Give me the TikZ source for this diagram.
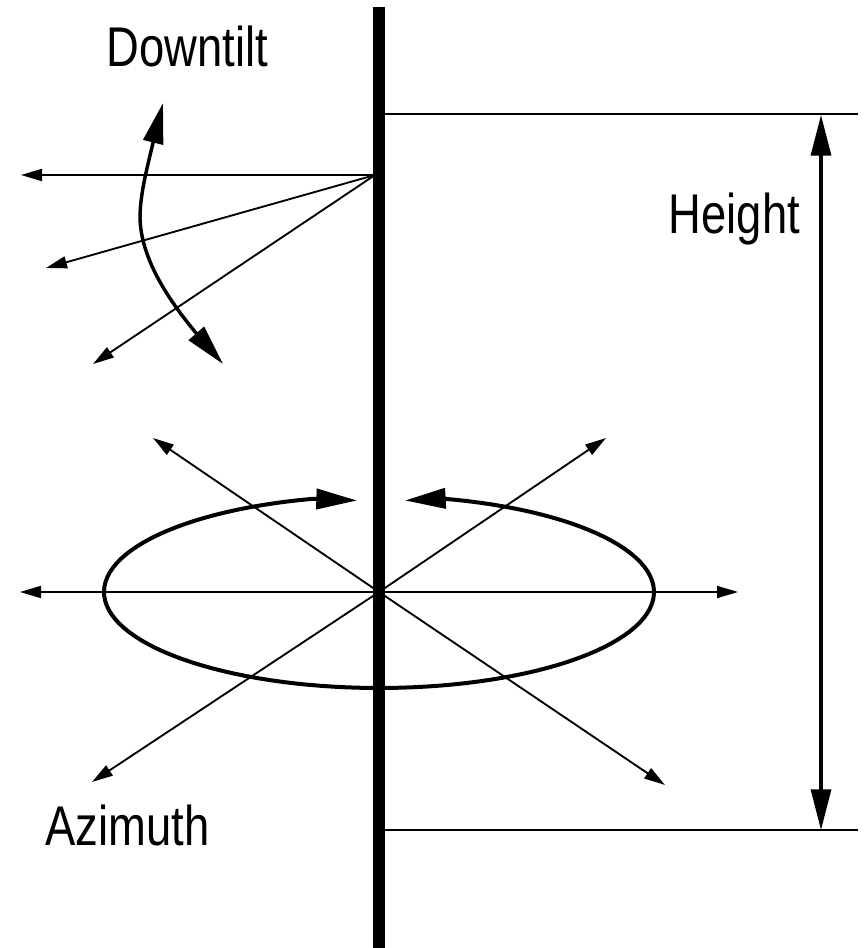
\documentclass[tikz,border=0pt]{standalone}
\usepackage{fontspec}
\usetikzlibrary{arrows.meta}
\newfontfamily\lab[FakeStretch=0.81]{Liberation Sans}
\tikzset{
  x=0.75pt,y=-0.75pt,
  thinline/.style={line width=1.4pt,-{Triangle[length=15.75pt,width=9pt]}},
  plainline/.style={line width=1.4pt},
  bigtip/.tip={Triangle[length=30.5pt,width=15pt]},
  bigline/.style={line width=2.6pt,{bigtip}-{bigtip}},
  ellipseline/.style={line width=3pt,{bigtip}-{bigtip}},
  heightline/.style={line width=2.4pt,{bigtip}-{bigtip}},
  pole/.style={line width=9pt},
  lbl/.style={inner sep=0pt,anchor=base,font=\lab\fontsize{42}{50}\selectfont}
}
\begin{document}
\begin{tikzpicture}
\useasboundingbox (0,0) rectangle (863,948);
\coordinate (poleTop) at (379,7);
\coordinate (poleBot) at (379,948);
\coordinate (hubA) at (375,175);
\coordinate (hubB) at (379,592);
\coordinate (a1) at (21,175);
\coordinate (a2) at (46,268);
\coordinate (a3) at (93,364);
\coordinate (b1) at (20,592);
\coordinate (b2) at (738,592);
\coordinate (b3) at (153,438);
\coordinate (b4) at (606,438);
\coordinate (b5) at (92,782);
\coordinate (b6) at (665,785);
\coordinate (h1s) at (385,114);
\coordinate (h1e) at (858,114);
\coordinate (h2s) at (385,830);
\coordinate (h2e) at (858,830);
\coordinate (hTop) at (821,115);
\coordinate (hBot) at (821,830);
\coordinate (dtTop) at (163,103);
\coordinate (dtBot) at (223,364);
\coordinate (azL) at (357,500.5);
\coordinate (azR) at (405,500.5);
\foreach \e in {a1,a2,a3} \draw[thinline] (hubA) -- (\e);
\foreach \e in {b1,b2,b3,b4,b5,b6} \draw[thinline] (hubB) -- (\e);
\draw[plainline] (h1s) -- (h1e);
\draw[plainline] (h2s) -- (h2e);
\draw[heightline] (hTop) -- (hBot);
\draw[bigline] (dtTop) -- (153,143)
  .. controls (146,172) and (140,196) .. (140,218)
  .. controls (141,258) and (167,298) .. (196,333) -- (dtBot);
\draw[ellipseline] (azL) -- plot[samples=120,domain=-104:-436.8,variable=\t]
  ({379+275*cos(\t)},{592+96*sin(\t)}) -- (azR);
\draw[pole] (poleTop) -- (poleBot);
\node[lbl] (downtilt) at (187.5,67) {Downtilt};
\node[lbl] (height) at (734.5,234) {Height};
\node[lbl] (azimuth) at (127.5,845) {Azimuth};
\end{tikzpicture}
\end{document}
